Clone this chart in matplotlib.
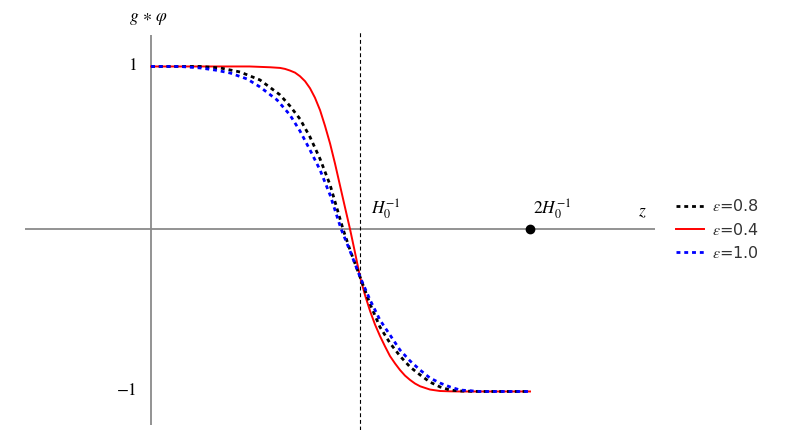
import matplotlib
matplotlib.use("Agg")
import matplotlib.pyplot as plt

plt.rcParams['mathtext.fontset'] = 'stix'

# ---- data (z in units of H0^-1 scale, value of g*phi) ----
z_red = [0, 0.26, 0.52, 0.63, 0.681, 0.707, 0.733, 0.760, 0.786, 0.813, 0.839, 0.865, 0.892,
         0.918, 0.945, 0.971, 0.997, 1.024, 1.050, 1.077, 1.103, 1.129, 1.156, 1.182, 1.208,
         1.235, 1.261, 1.288, 1.314, 1.340, 1.367, 1.393, 1.420, 1.472, 1.525, 1.578, 1.631,
         1.79, 2.0]
v_red = [1.0, 1.0, 1.0, 0.995, 0.991, 0.985, 0.975, 0.962, 0.940, 0.909, 0.866, 0.808, 0.731,
         0.635, 0.525, 0.402, 0.269, 0.131, 0.0, -0.148, -0.295, -0.406, -0.505, -0.588, -0.658,
         -0.723, -0.782, -0.828, -0.868, -0.902, -0.929, -0.951, -0.968, -0.988, -0.997, -0.999,
         -1.0, -1.0, -1.0]

z_black = [0, 0.259, 0.364, 0.470, 0.575, 0.681, 0.733, 0.786, 0.839, 0.892, 0.945, 1.013, 1.050,
           1.103, 1.156, 1.208, 1.261, 1.314, 1.367, 1.420, 1.472, 1.525, 1.578, 1.631, 1.736, 1.842, 2.0]
v_black = [1.0, 1.0, 0.991, 0.966, 0.917, 0.825, 0.757, 0.677, 0.566, 0.431, 0.271, 0.0, -0.129,
           -0.295, -0.462, -0.603, -0.702, -0.782, -0.849, -0.898, -0.942, -0.972, -0.991, -0.997,
           -1.0, -1.0, -1.0]

z_blue = [0, 0.153, 0.259, 0.338, 0.417, 0.507, 0.575, 0.665, 0.733, 0.786, 0.839, 0.892, 0.945,
          1.003, 1.050, 1.103, 1.156, 1.208, 1.261, 1.314, 1.367, 1.420, 1.472, 1.525, 1.578, 1.631,
          1.736, 1.842, 2.0]
v_blue = [1.0, 1.0, 0.991, 0.978, 0.960, 0.923, 0.874, 0.794, 0.702, 0.603, 0.486, 0.363, 0.209,
          0.0, -0.135, -0.295, -0.437, -0.560, -0.652, -0.745, -0.812, -0.868, -0.917, -0.948,
          -0.972, -0.991, -1.0, -1.0, -1.0]

labels = [r'$\varepsilon$=0.8', r'$\varepsilon$=0.4', r'$\varepsilon$=1.0']
h0_inv = 1.103       # position of the dashed marker line
two_h0_inv = 2.0     # position of the dot
y_ticks = [1, -1]
y_tick_labels = ['1', '\u22121']

# ---- figure ----
fig = plt.figure(figsize=(7.9, 4.3), dpi=100)
ax = fig.add_axes([0, 0, 1, 1])
ax.set_xlim(-0.797, 3.372)
ax.set_ylim(-1.237, 1.409)
ax.axis('off')

axis_col = '#8a8a8a'
ax.plot([-0.665, 2.66], [0, 0], color=axis_col, lw=1.3, zorder=1, solid_capstyle='butt')
ax.plot([0, 0], [-1.206, 1.194], color=axis_col, lw=1.3, zorder=1, solid_capstyle='butt')

ax.plot([h0_inv, h0_inv], [-1.237, 1.225], color='black', lw=0.8, ls=(0, (3.5, 2.5)), zorder=2)

l_red, = ax.plot(z_red, v_red, color='#ff0000', lw=1.4, zorder=3)
l_black, = ax.plot(z_black, v_black, color='black', lw=2.0, ls=(0, (1.4, 1.4)), zorder=4)
l_blue, = ax.plot(z_blue, v_blue, color='#0000ff', lw=2.0, ls=(0, (1.4, 1.4)), zorder=5)

ax.plot([two_h0_inv], [0], 'o', color='black', ms=6, zorder=6)

# tick labels
for yv, lab in zip(y_ticks, y_tick_labels):
    ax.annotate(lab, xy=(0, yv), xytext=(-10, 0), textcoords='offset points',
                ha='right', va='center', fontsize=12.5, family='STIXGeneral')

ax.annotate(r'$H_0^{-1}$', xy=(h0_inv, 0), xytext=(8, 6), textcoords='offset points',
            ha='left', va='bottom', fontsize=12.5)
ax.annotate(r'$2H_0^{-1}$', xy=(two_h0_inv, 0), xytext=(2, 6), textcoords='offset points',
            ha='left', va='bottom', fontsize=12.5)
ax.annotate(r'$z$', xy=(2.66, 0), xytext=(-6, 6), textcoords='offset points',
            ha='right', va='bottom', fontsize=12.5)
ax.annotate(r'$g\,\ast\,\varphi$', xy=(0, 1.194), xytext=(-2, 6), textcoords='offset points',
            ha='center', va='bottom', fontsize=12.5)

leg = ax.legend([l_black, l_red, l_blue], labels, loc='center left',
                bbox_to_anchor=(0.856, 0.466), frameon=False, fontsize=11.5,
                handlelength=1.75, handletextpad=0.5, labelspacing=0.45,
                borderaxespad=0, borderpad=0)
for t in leg.get_texts():
    t.set_color('#333333')

fig.savefig('out.png', dpi=100)
